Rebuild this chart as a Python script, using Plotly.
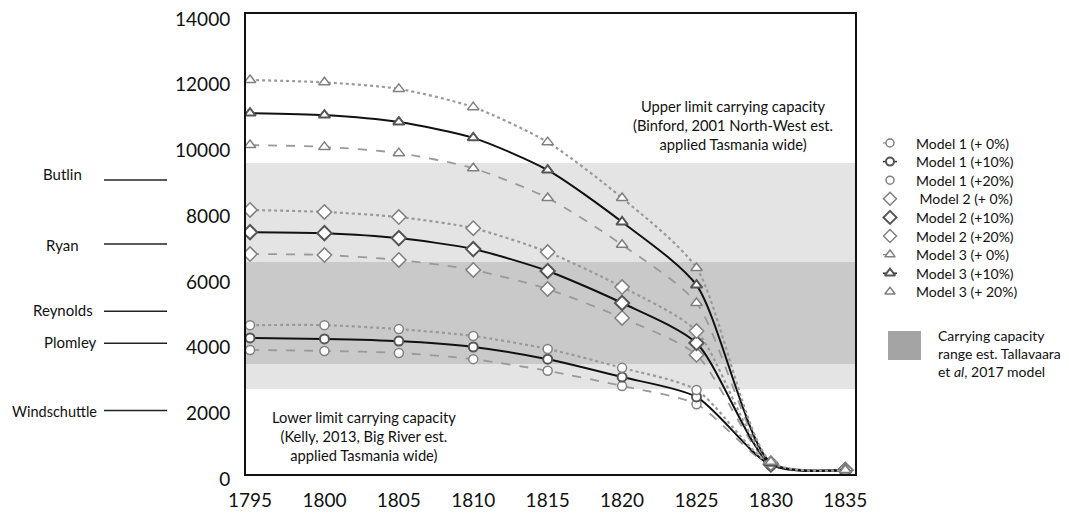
import plotly.graph_objects as go

years = [1795, 1800, 1805, 1810, 1815, 1820, 1825, 1830, 1835]

m1_0 = [3775, 3745, 3685, 3495, 3140, 2680, 2125, 250, 120]
m1_10 = [4140, 4110, 4045, 3865, 3495, 2950, 2345, 270, 120]
m1_20 = [4530, 4530, 4410, 4200, 3805, 3230, 2555, 290, 120]
m2_0 = [6695, 6665, 6515, 6210, 5630, 4750, 3625, 280, 120]
m2_10 = [7360, 7330, 7180, 6845, 6180, 5205, 3985, 300, 120]
m2_20 = [8035, 7975, 7820, 7480, 6755, 5690, 4350, 330, 120]
m3_0 = [10010, 9955, 9765, 9305, 8400, 6975, 5205, 320, 120]
m3_10 = [10985, 10925, 10710, 10230, 9250, 7670, 5750, 340, 120]
m3_20 = [11990, 11920, 11720, 11165, 10100, 8400, 6270, 370, 120]

series_names = ["Model 1 (+ 0%)", "Model 1 (+10%)", "Model 1 (+20%)",
                " Model 2 (+ 0%)", "Model 2 (+10%)", "Model 2 (+20%)",
                "Model 3 (+ 0%)", "Model 3 (+10%)", "Model 3 (+ 20%)"]
series_values = [m1_0, m1_10, m1_20, m2_0, m2_10, m2_20, m3_0, m3_10, m3_20]
series_symbols = ["circle"] * 3 + ["diamond"] * 3 + ["triangle-up"] * 3

light_band = [2590, 9465]
dark_band = [3350, 6450]

ref_names = ["Butlin", "Ryan", "Reynolds", "Plomley", "Windschuttle"]
ref_values = [8950, 7000, 4950, 3980, 1930]

x_ticks = [1795, 1800, 1805, 1810, 1815, 1820, 1825, 1830, 1835]
y_ticks = [0, 2000, 4000, 6000, 8000, 10000, 12000, 14000]

FONT = "Lato"
OFF = 8  # page body margin
W, H = 1069 - OFF, 514 - OFF
PL, PR, PT, PB = 246, 855, 14, 474  # plot area in window pixels


def px(x):
    return (x - OFF) / W


def py(y):
    return 1 - (y - OFF) / H


fig = go.Figure()

styles = {
    0: dict(dash="dash", color="#9a9a9a", width=1.8, mline="#808080", mw=1.5),
    1: dict(dash="solid", color="#111111", width=2, mline="#555555", mw=2),
    2: dict(dash="dot", color="#9a9a9a", width=2.2, mline="#808080", mw=1.5),
}


def msize(sym):
    return 9 if sym == "circle" else (11 if sym == "diamond" else 10)


for i, (name, vals, sym) in enumerate(zip(series_names, series_values, series_symbols)):
    st = styles[i % 3]
    fig.add_trace(go.Scatter(
        x=years, y=vals, mode="lines+markers", name=name, showlegend=False,
        line=dict(color=st["color"], width=st["width"], dash=st["dash"], shape="spline", smoothing=0.7),
        marker=dict(symbol=sym, size=msize(sym), color="white",
                    line=dict(color=st["mline"], width=st["mw"])),
        xaxis="x", yaxis="y",
    ))

# custom legend on a pixel-coordinate overlay axis
LEG_X, LEG_Y0, LEG_DY, LEG_TX = 890, 143, 18.6, 914
annotations = []
for i, (name, sym) in enumerate(zip(series_names, series_symbols)):
    st = styles[i % 3]
    yy = LEG_Y0 + LEG_DY * i
    if i % 3 == 1:
        fig.add_trace(go.Scatter(x=[LEG_X - 7, LEG_X + 7], y=[yy, yy], mode="lines",
                                 line=dict(color="#333333", width=1.5), showlegend=False,
                                 xaxis="x2", yaxis="y2", hoverinfo="skip"))
    elif i % 3 == 0:
        fig.add_trace(go.Scatter(x=[LEG_X - 7, LEG_X], y=[yy, yy], mode="lines",
                                 line=dict(color="#888888", width=1.2), showlegend=False,
                                 xaxis="x2", yaxis="y2", hoverinfo="skip"))
    fig.add_trace(go.Scatter(
        x=[LEG_X], y=[yy], mode="markers", showlegend=False, xaxis="x2", yaxis="y2",
        marker=dict(symbol=sym, size=msize(sym) - 1, color="white",
                    line=dict(color=st["mline"], width=st["mw"])),
        hoverinfo="skip",
    ))
    annotations.append(dict(xref="paper", yref="paper", x=px(LEG_TX), y=py(yy), text=name,
                            showarrow=False, xanchor="left", yanchor="middle",
                            font=dict(family=FONT, size=14, color="#111111")))

shapes = [
    dict(type="rect", xref="x domain", yref="y", x0=0, x1=1, y0=light_band[0], y1=light_band[1],
         fillcolor="#e4e4e4", line=dict(width=0), layer="below"),
    dict(type="rect", xref="x domain", yref="y", x0=0, x1=1, y0=dark_band[0], y1=dark_band[1],
         fillcolor="#c9c9c9", line=dict(width=0), layer="below"),
    dict(type="rect", xref="paper", yref="paper", x0=px(888), x1=px(921), y0=py(360), y1=py(331),
         fillcolor="#a4a4a4", line=dict(width=0)),
]

label_x = [62, 62, 63, 70, 54]
label_dy = [-6, 1, -1, -1, 1]
for name, val, lx, dy in zip(ref_names, ref_values, label_x, label_dy):
    shapes.append(dict(type="line", xref="paper", yref="y", x0=px(104), x1=px(167),
                       y0=val, y1=val, line=dict(color="#222222", width=1.5)))
    annotations.append(dict(xref="paper", yref="y", x=px(lx), y=val, yshift=-dy,
                            text=name, showarrow=False, xanchor="center", yanchor="middle",
                            font=dict(family=FONT, size=15 if name != "Windschuttle" else 14.5,
                                      color="#111111")))

annotations.append(dict(xref="paper", yref="paper", x=px(733), y=py(125),
                        text="Upper limit carrying capacity<br>(Binford, 2001 North-West est.<br>applied Tasmania wide)",
                        showarrow=False, xanchor="center", yanchor="middle", align="center",
                        font=dict(family=FONT, size=14.7, color="#111111")))
annotations.append(dict(xref="paper", yref="paper", x=px(364), y=py(436),
                        text="Lower limit carrying capacity<br>(Kelly, 2013, Big River est.<br>applied Tasmania wide)",
                        showarrow=False, xanchor="center", yanchor="middle", align="center",
                        font=dict(family=FONT, size=14.7, color="#111111")))
annotations.append(dict(xref="paper", yref="paper", x=px(936), y=py(353),
                        text="Carrying capacity<br>range est. Tallavaara<br>et <i>al</i>, 2017 model",
                        showarrow=False, xanchor="left", yanchor="middle", align="left",
                        font=dict(family=FONT, size=14, color="#111111")))

fig.update_layout(
    template="none",
    width=W, height=H,
    margin=dict(l=0, r=0, t=0, b=0, autoexpand=False),
    paper_bgcolor="white", plot_bgcolor="rgba(0,0,0,0)",
    font=dict(family=FONT, color="#111111"),
    shapes=shapes, annotations=annotations, showlegend=False,
    xaxis=dict(domain=[px(PL), px(PR)], anchor="y", automargin=False,
               range=[1794.73, 1835.65], tickvals=x_ticks, ticktext=[str(t) for t in x_ticks],
               showgrid=False, zeroline=False, showline=True, linecolor="#111111", linewidth=2,
               mirror=True, ticks="", tickfont=dict(family=FONT, size=19, color="#111111"),
               ticklabelstandoff=8, ticklabeloverflow="allow"),
    yaxis=dict(domain=[py(PB), py(PT)], anchor="x", automargin=False,
               range=[0, 14000], tickvals=y_ticks, ticktext=[str(t) for t in y_ticks],
               showgrid=False, zeroline=False, showline=True, linecolor="#111111", linewidth=2,
               mirror=True, ticks="", tickfont=dict(family=FONT, size=19, color="#111111"),
               ticklabelstandoff=10, ticklabelshift=5, ticklabeloverflow="allow"),
    xaxis2=dict(domain=[0, 1], anchor="y2", range=[OFF, OFF + W], visible=False, fixedrange=True,
                automargin=False),
    yaxis2=dict(domain=[0, 1], anchor="x2", range=[OFF + H, OFF], visible=False, fixedrange=True,
                automargin=False),
)

fig.write_html("out.html")
